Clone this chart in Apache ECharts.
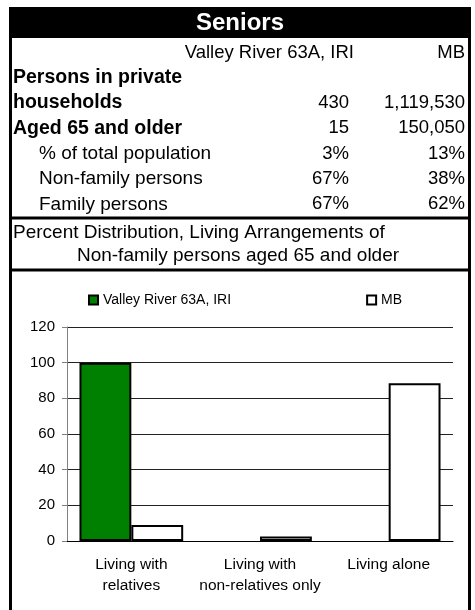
<!DOCTYPE html>
<html>
<head>
<meta charset="utf-8">
<script src="https://cdn.jsdelivr.net/npm/echarts@6/dist/echarts.min.js"></script>
<style>
  body { margin: 0; background: #fff; }
  #main { width: 475px; height: 610px; }
</style>
</head>
<body>
<div id="main"></div>
<script>
// table part
const title = 'Seniors'
const placeName = 'Valley River 63A, IRI'
const provName = 'MB'
const tableLabels = ['Persons in private', 'households', 'Aged 65 and older', '% of total population', 'Non-family persons', 'Family persons']
const localValues = ['', '430', '15', '3%', '67%', '67%']
const mbValues = ['', '1,119,530', '150,050', '13%', '38%', '62%']
const chartTitle = ['Percent Distribution, Living Arrangements of', 'Non-family persons aged 65 and older']

// chart part
const categories = ['Living with\nrelatives', 'Living with\nnon-relatives only', 'Living alone']
const localSeries = [100, 0, 0]
const mbSeries = [9, 2.5, 88.5]

const FONT = '"Liberation Sans", Arial, sans-serif'

var myChart = echarts.init(document.getElementById('main'))

// frame + text built with graphic elements
let graphics = [
  { type: 'rect', shape: { x: 9, y: 7, width: 462, height: 31 }, style: { fill: '#000' } },
  { type: 'rect', shape: { x: 9, y: 7, width: 3, height: 603 }, style: { fill: '#000' } },
  { type: 'rect', shape: { x: 468, y: 7, width: 3, height: 603 }, style: { fill: '#000' } },
  { type: 'rect', shape: { x: 9, y: 216.5, width: 462, height: 3 }, style: { fill: '#000' } },
  { type: 'rect', shape: { x: 9, y: 268.5, width: 462, height: 3 }, style: { fill: '#000' } },
  {
    type: 'text',
    style: { text: title, x: 240, y: 23, font: 'bold 24px ' + FONT, fill: '#fff', textAlign: 'center', textVerticalAlign: 'middle' }
  },
  {
    type: 'text',
    style: { text: placeName, x: 354, y: 52.5, font: '18.5px ' + FONT, fill: '#000', textAlign: 'right', textVerticalAlign: 'middle' }
  },
  {
    type: 'text',
    style: { text: provName, x: 465, y: 52.5, font: '18.5px ' + FONT, fill: '#000', textAlign: 'right', textVerticalAlign: 'middle' }
  }
]

tableLabels.forEach(function (label, i) {
  let y = 77.8 + i * 25.3
  let bold = i < 3
  graphics.push({
    type: 'text',
    style: { text: label, x: bold ? 13 : 39, y: y, font: (bold ? 'bold 19.5px ' : '19px ') + FONT, fill: '#000', textVerticalAlign: 'middle' }
  })
  graphics.push({
    type: 'text',
    style: { text: localValues[i], x: 349, y: y, font: '18.5px ' + FONT, fill: '#000', textAlign: 'right', textVerticalAlign: 'middle' }
  })
  graphics.push({
    type: 'text',
    style: { text: mbValues[i], x: 465, y: y, font: '18.5px ' + FONT, fill: '#000', textAlign: 'right', textVerticalAlign: 'middle' }
  })
})

graphics.push({
  type: 'text',
  style: { text: chartTitle[0], x: 13, y: 232.5, font: '19px ' + FONT, fill: '#000', textVerticalAlign: 'middle' }
})
graphics.push({
  type: 'text',
  style: { text: chartTitle[1], x: 238, y: 256, font: '19px ' + FONT, fill: '#000', textAlign: 'center', textVerticalAlign: 'middle' }
})

// zero bars are not drawn in the original, so leave them out
function hideZero (arr) {
  return arr.map(function (v) { return v === 0 ? '-' : v })
}

let option = {
  animation: false,
  textStyle: { fontFamily: FONT },
  graphic: graphics,
  legend: {
    left: 88,
    top: 293,
    padding: 0,
    itemWidth: 9,
    itemHeight: 9,
    itemGap: 135,
    icon: 'rect',
    textStyle: { fontSize: 14, color: '#000', fontFamily: FONT },
    itemStyle: { borderWidth: 2 },
    data: [placeName, provName]
  },
  grid: {
    left: 67,
    right: 22,
    top: 327,
    bottom: 69,
    containLabel: false
  },
  xAxis: {
    type: 'category',
    data: categories,
    axisLine: { lineStyle: { color: '#000', width: 1 } },
    axisTick: { length: 6, lineStyle: { color: '#000' } },
    axisLabel: {
      color: '#000',
      fontSize: 15.5,
      lineHeight: 21,
      margin: 13,
      interval: 0
    }
  },
  yAxis: {
    type: 'value',
    min: 0,
    max: 120,
    interval: 20,
    axisLine: { show: true, lineStyle: { color: '#808080' } },
    axisTick: { show: true, length: 5, lineStyle: { color: '#808080' } },
    axisLabel: { color: '#000', fontSize: 15, margin: 12 },
    splitLine: { lineStyle: { color: '#222', width: 1 } }
  },
  series: [
    {
      name: placeName,
      type: 'bar',
      data: hideZero(localSeries),
      barGap: '0%',
      barCategoryGap: '19.4%',
      itemStyle: { color: '#008000', borderColor: '#000', borderWidth: 2 }
    },
    {
      name: provName,
      type: 'bar',
      data: hideZero(mbSeries),
      barGap: '0%',
      barCategoryGap: '19.4%',
      itemStyle: { color: '#fff', borderColor: '#000', borderWidth: 2 }
    }
  ]
}

myChart.setOption(option, true)
</script>
</body>
</html>
